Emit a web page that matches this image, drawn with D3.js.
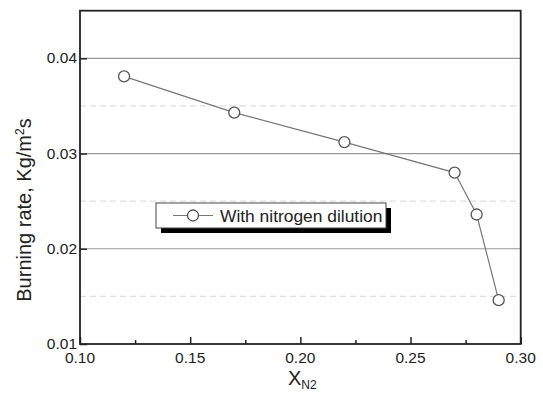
<!DOCTYPE html>
<html>
<head>
<meta charset="utf-8">
<script src="https://cdn.jsdelivr.net/npm/d3@7"></script>
<style>
  body { margin: 0; background: #fff; }
  text { font-family: "Liberation Sans", Arial, sans-serif; fill: #222; }
</style>
</head>
<body>
<svg width="543" height="398"></svg>
<script>
// data
var xValues = [0.12, 0.17, 0.22, 0.27, 0.28, 0.29];
var burnRate = [0.0381, 0.0343, 0.0312, 0.0280, 0.0236, 0.0146];
var xTicks = [0.10, 0.15, 0.20, 0.25, 0.30];
var yTicks = [0.01, 0.02, 0.03, 0.04];
var yDashed = [0.015, 0.025, 0.035];
var seriesName = "With nitrogen dilution";

var svg = d3.select("svg");
var pLeft = 80, pRight = 520.7, pTop = 10.7, pBottom = 344;

var x = d3.scaleLinear().domain([0.10, 0.30]).range([pLeft, pRight]);
var y = d3.scaleLinear().domain([0.01, 0.045]).range([pBottom, pTop]);

// grid lines
svg.append("g").selectAll("line")
  .data(yTicks.slice(1))
  .enter().append("line")
  .attr("x1", pLeft).attr("x2", pRight)
  .attr("y1", function(d) { return y(d); })
  .attr("y2", function(d) { return y(d); })
  .attr("stroke", "#999").attr("stroke-width", 1.2);

svg.append("g").selectAll("line")
  .data(yDashed)
  .enter().append("line")
  .attr("x1", pLeft).attr("x2", pRight)
  .attr("y1", function(d) { return y(d); })
  .attr("y2", function(d) { return y(d); })
  .attr("stroke", "#ddd").attr("stroke-width", 1.2)
  .attr("stroke-dasharray", "6,4");

// axes with inward ticks
svg.append("g")
  .attr("transform", "translate(0," + pBottom + ")")
  .call(d3.axisTop(x).tickValues(xTicks).tickSize(7).tickFormat(""))
  .select(".domain").remove();
svg.append("g")
  .attr("transform", "translate(0," + pBottom + ")")
  .call(d3.axisTop(x).tickValues([0.125, 0.175, 0.225, 0.275]).tickSize(4).tickFormat(""))
  .select(".domain").remove();
svg.append("g")
  .attr("transform", "translate(" + pLeft + ",0)")
  .call(d3.axisRight(y).tickValues(yTicks).tickSize(7).tickFormat(""))
  .select(".domain").remove();

svg.selectAll(".tick line").attr("stroke", "#222").attr("stroke-width", 1.5);

// tick labels
svg.append("g").selectAll("text")
  .data(xTicks)
  .enter().append("text")
  .attr("x", function(d) { return x(d); })
  .attr("y", 363)
  .attr("text-anchor", "middle")
  .attr("font-size", "15.5px")
  .text(function(d) { return d.toFixed(2); });

svg.append("g").selectAll("text")
  .data(yTicks)
  .enter().append("text")
  .attr("x", 77)
  .attr("y", function(d) { return y(d) + 5; })
  .attr("text-anchor", "end")
  .attr("font-size", "15.5px")
  .text(function(d) { return d.toFixed(2); });

// frame
svg.append("rect")
  .attr("x", pLeft).attr("y", pTop)
  .attr("width", pRight - pLeft).attr("height", pBottom - pTop)
  .attr("fill", "none").attr("stroke", "#222").attr("stroke-width", 1.8);

// series
var line = d3.line()
  .x(function(d, i) { return x(xValues[i]); })
  .y(function(d) { return y(d); });

svg.append("path")
  .datum(burnRate)
  .attr("d", line)
  .attr("fill", "none")
  .attr("stroke", "#777")
  .attr("stroke-width", 1.2);

svg.append("g").selectAll("circle")
  .data(burnRate)
  .enter().append("circle")
  .attr("cx", function(d, i) { return x(xValues[i]); })
  .attr("cy", function(d) { return y(d); })
  .attr("r", 5.5)
  .attr("fill", "#fff")
  .attr("stroke", "#555")
  .attr("stroke-width", 1.3);

// legend
var lg = svg.append("g");
lg.append("rect").attr("x", 161).attr("y", 208).attr("width", 230).attr("height", 25).attr("fill", "#000");
lg.append("rect").attr("x", 156).attr("y", 203).attr("width", 230).attr("height", 25)
  .attr("fill", "#fff").attr("stroke", "#444").attr("stroke-width", 1);
lg.append("line").attr("x1", 173).attr("x2", 213).attr("y1", 215.5).attr("y2", 215.5)
  .attr("stroke", "#777").attr("stroke-width", 1.2);
lg.append("circle").attr("cx", 193).attr("cy", 215.5).attr("r", 5.5)
  .attr("fill", "#fff").attr("stroke", "#555").attr("stroke-width", 1.3);
lg.append("text").attr("x", 220).attr("y", 222).attr("font-size", "17.4px").text(seriesName);

// axis titles
var yl = svg.append("text")
  .attr("transform", "translate(31,210) rotate(-90)")
  .attr("text-anchor", "middle")
  .attr("font-size", "20px");
yl.append("tspan").text("Burning rate, Kg/m");
yl.append("tspan").attr("baseline-shift", "super").attr("font-size", "12px").text("2");
yl.append("tspan").text("s");

var xl = svg.append("text")
  .attr("x", 288).attr("y", 385)
  .attr("font-size", "20px");
xl.append("tspan").text("X");
xl.append("tspan").attr("dy", 4).attr("font-size", "12px").text("N2");
</script>
</body>
</html>
